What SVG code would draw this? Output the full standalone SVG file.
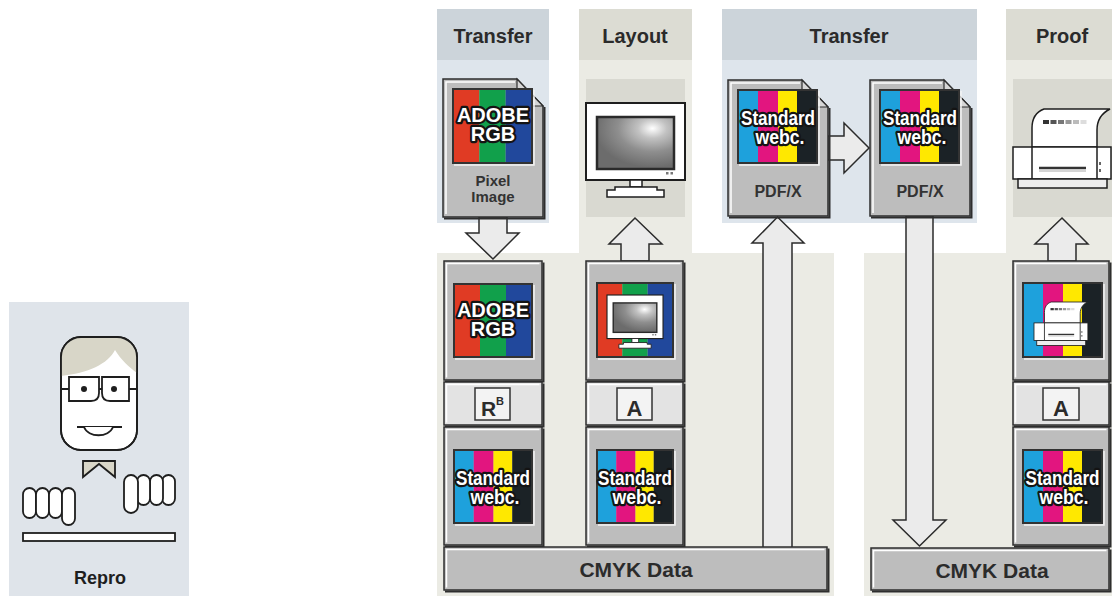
<svg xmlns="http://www.w3.org/2000/svg" width="1112" height="596" viewBox="0 0 1112 596">
<style>
text{font-family:"Liberation Sans",Arial,sans-serif;font-weight:bold}
.hd{font-size:20px;fill:#2b2b2b;text-anchor:middle}
.lb{font-size:15px;fill:#333;text-anchor:middle}
.bar-t{font-size:21px;fill:#2b2b2b;text-anchor:middle}
.ol{font-size:20px;fill:#fff;stroke:#141414;stroke-width:4.5px;stroke-linejoin:round;paint-order:stroke;text-anchor:middle}
.cell{fill:#bdbdbd;stroke:#2e2e2e;stroke-width:1.5}
.mid{fill:#e3e3e3;stroke:#2e2e2e;stroke-width:1.5}
.hl{fill:none;stroke:#fff;stroke-width:1.5}
.sh{fill:none;stroke:#2e2e2e;stroke-width:2}
.pf{fill:none;stroke:#333;stroke-width:2}
.pb{fill:none;stroke:#f4f4f4;stroke-width:1.5}
.arr{fill:#ebebeb;stroke:#2b2b2b;stroke-width:1.5}
.doc{fill:#bdbdbd;stroke:#2e2e2e;stroke-width:1.5}
.fold{fill:#d6d6d6;stroke:#2e2e2e;stroke-width:1.2}
.key{fill:#f3f3f3;stroke:#333;stroke-width:1.5}
.skin{fill:#fff;stroke:#1e1e1e;stroke-width:1.8}
.icon-bg{fill:#d9d9d1}
</style>
<defs>
  <symbol id="rgb" viewBox="0 0 78 73" preserveAspectRatio="none">
    <rect width="26" height="73" fill="#e03b24"/>
    <rect x="26" width="26" height="73" fill="#11a04b"/>
    <rect x="52" width="26" height="73" fill="#21489c"/>
  </symbol>
  <symbol id="cmyk" viewBox="0 0 79 73" preserveAspectRatio="none">
    <rect width="20" height="73" fill="#1ea1dc"/>
    <rect x="20" width="20" height="73" fill="#e2157f"/>
    <rect x="40" width="19" height="73" fill="#ffe800"/>
    <rect x="59" width="20" height="73" fill="#1b2226"/>
  </symbol>
  <radialGradient id="scr" cx="0.72" cy="0.22" r="0.75">
    <stop offset="0" stop-color="#ffffff"/>
    <stop offset="0.25" stop-color="#c2c2c2"/>
    <stop offset="0.6" stop-color="#8e8e8e"/>
    <stop offset="1" stop-color="#6c6c6c"/>
  </radialGradient>
  <clipPath id="headClip"><rect x="61" y="337" width="76" height="113" rx="20"/></clipPath>
  <!-- flat-screen monitor, origin at top-left of the frame -->
  <g id="mon">
    <rect width="99" height="77" fill="#fff" stroke="#1e1e1e" stroke-width="2"/>
    <rect x="11" y="14" width="77" height="52" fill="url(#scr)" stroke="#2a2a2a" stroke-width="2.5"/>
    <rect x="80" y="69" width="2.5" height="2.5" fill="#777"/>
    <rect x="84.5" y="69" width="2.5" height="2.5" fill="#777"/>
    <rect x="44" y="77" width="12" height="7" fill="#fff" stroke="#1e1e1e" stroke-width="1.5"/>
    <path d="M29,84 H71 V87 H78 V94 H21 V87 H29 Z" fill="#fff" stroke="#1e1e1e" stroke-width="1.5"/>
  </g>
  <!-- proof printer, origin at top-left of the body/paper box -->
  <g id="prn">
    <path d="M19,38 V19 C19,9 23,3 31,0 H97 C89,4 84,11 84,21 V38 Z" fill="#fff" stroke="#1e1e1e" stroke-width="1.5"/>
    <rect x="30" y="11" width="6" height="4" fill="#333"/>
    <rect x="37.5" y="11" width="6" height="4" fill="#555"/>
    <rect x="45" y="11" width="6" height="4" fill="#777"/>
    <rect x="52.5" y="11" width="6" height="4" fill="#999"/>
    <rect x="60" y="11" width="6" height="4" fill="#bbb"/>
    <rect x="67.5" y="11" width="6" height="4" fill="#ddd"/>
    <rect y="38" width="98" height="32" fill="#fff" stroke="#1e1e1e" stroke-width="1.5"/>
    <path d="M19,38 V70 M84,38 V70" fill="none" stroke="#1e1e1e" stroke-width="1.5"/>
    <path d="M26,59 H73" stroke="#333" stroke-width="2.5"/>
    <path d="M26,62 H73" stroke="#aaa" stroke-width="1"/>
    <rect x="86" y="53" width="2" height="3" fill="#666"/>
    <rect x="86" y="60" width="2" height="3" fill="#666"/>
    <rect x="5" y="70" width="89" height="9" fill="#ededed" stroke="#1e1e1e" stroke-width="1.5"/>
  </g>
</defs>

<!-- column backgrounds and headers -->
<g id="panels">
  <rect x="9" y="302" width="180" height="294" fill="#dfe4ea"/>
  <rect x="437" y="253" width="397" height="343" fill="#ebebe4"/>
  <rect x="864" y="253" width="248" height="343" fill="#ebebe4"/>
  <rect x="437" y="9" width="112" height="51" fill="#ccd4da"/>
  <rect x="437" y="60" width="112" height="163" fill="#dee5ec"/>
  <rect x="579" y="9" width="113" height="51" fill="#dcdcd3"/>
  <rect x="579" y="60" width="113" height="193" fill="#ebebe4"/>
  <rect x="722" y="9" width="255" height="51" fill="#ccd4da"/>
  <rect x="722" y="60" width="255" height="163" fill="#dee5ec"/>
  <rect x="1006" y="9" width="106" height="51" fill="#dcdcd3"/>
  <rect x="1006" y="60" width="106" height="193" fill="#ebebe4"/>
  <text class="hd" x="493" y="43">Transfer</text>
  <text class="hd" x="635" y="43">Layout</text>
  <text class="hd" x="849" y="43">Transfer</text>
  <text class="hd" x="1062" y="43">Proof</text>
</g>

<!-- block arrows -->
<g id="connectors">
  <path class="arr" d="M479,217 V233 H466 L493,259 L519,233 H507 V217 Z"/>
  <path class="arr" d="M621,261 V244 H609 L635,218 L662,244 H649 V261 Z"/>
  <path class="arr" d="M763,548 V243 H752 L777.5,217 L804,243 H792 V548 Z"/>
  <path class="arr" d="M906,216 V520 H893 L919.5,546 L946,520 H933 V216 Z"/>
  <path class="arr" d="M1048,261 V244 H1035 L1062,218 L1088,244 H1076 V261 Z"/>
  <path class="arr" d="M828,136 H844 V123 L869,148 L844,173 V160 H828 Z"/>
</g>

<g id="node-pixel-image">
  <path class="doc" d="M443,79 H517 L543,106 V217 H443 Z"/>
  <path class="sh" d="M544.5,107 V218.5 H444"/>
  <path class="hl" d="M446,214 V82 H515"/>
  <path class="fold" d="M517,79 V106 H543 Z"/>
  <use href="#rgb" x="453" y="89" width="79" height="74"/>
  <rect class="pf" x="453" y="89" width="79" height="74"/>
  <path class="pb" d="M454,165 H534 V90"/>
  <text class="ol" x="493" y="122">ADOBE</text>
  <text class="ol" x="493" y="141">RGB</text>
  <text class="lb" x="493" y="186">Pixel</text>
  <text class="lb" x="493" y="202">Image</text>
</g>

<g id="node-layout-monitor">
  <rect class="icon-bg" x="586" y="79" width="99" height="138"/>
  <use href="#mon" transform="translate(586,103)"/>
</g>

<g id="node-pdfx-1">
  <path class="doc" d="M728,80 H802 L828,107 V216 H728 Z"/>
  <path class="sh" d="M829.5,108 V217.5 H729"/>
  <path class="hl" d="M731,213 V83 H800"/>
  <path class="fold" d="M802,80 V107 H828 Z"/>
  <use href="#cmyk" x="738" y="90" width="79" height="73"/>
  <rect class="pf" x="738" y="90" width="79" height="73"/>
  <path class="pb" d="M739,165 H819 V91"/>
  <text class="ol" x="778" y="125" textLength="74" lengthAdjust="spacingAndGlyphs">Standard</text>
  <text class="ol" x="780" y="144" textLength="49" lengthAdjust="spacingAndGlyphs">webc.</text>
  <text class="lb" x="778" y="197" style="font-size:16px">PDF/X</text>
</g>

<g id="node-pdfx-2">
  <path class="doc" d="M870,80 H944 L970,107 V216 H870 Z"/>
  <path class="sh" d="M971.5,108 V217.5 H871"/>
  <path class="hl" d="M873,213 V83 H942"/>
  <path class="fold" d="M944,80 V107 H970 Z"/>
  <use href="#cmyk" x="880" y="90" width="79" height="73"/>
  <rect class="pf" x="880" y="90" width="79" height="73"/>
  <path class="pb" d="M881,165 H961 V91"/>
  <text class="ol" x="920" y="125" textLength="74" lengthAdjust="spacingAndGlyphs">Standard</text>
  <text class="ol" x="922" y="144" textLength="49" lengthAdjust="spacingAndGlyphs">webc.</text>
  <text class="lb" x="920" y="197" style="font-size:16px">PDF/X</text>
</g>

<g id="node-proof-printer">
  <rect class="icon-bg" x="1013" y="79" width="99" height="138"/>
  <use href="#prn" transform="translate(1013,109)"/>
</g>

<g id="node-rgb-stack">
  <rect class="cell" x="444" y="261" width="98" height="119"/>
  <path class="hl" d="M446.5,377.5 V263.5 H539.5"/>
  <path class="sh" d="M543.5,262.5 V381.5 H445"/>
  <use href="#rgb" x="454" y="284" width="78" height="73"/>
  <rect class="pf" x="454" y="284" width="78" height="73"/>
  <path class="pb" d="M455,359 H534 V285"/>
  <text class="ol" x="493" y="317">ADOBE</text>
  <text class="ol" x="493" y="336">RGB</text>
  <rect class="mid" x="444" y="382" width="98" height="43"/>
  <path class="hl" d="M446.5,422.5 V384.5 H539.5"/>
  <path class="sh" d="M543.5,383.5 V426.5 H445"/>
  <rect class="key" x="475" y="388" width="35" height="32"/>
  <text x="481" y="416" style="font-size:21px;fill:#2b2b2b">R</text>
  <text x="496" y="405" style="font-size:11px;fill:#2b2b2b">B</text>
  <rect class="cell" x="444" y="427" width="98" height="118"/>
  <path class="hl" d="M446.5,542.5 V429.5 H539.5"/>
  <path class="sh" d="M543.5,428.5 V546.5 H445"/>
  <use href="#cmyk" x="454" y="450" width="78" height="73"/>
  <rect class="pf" x="454" y="450" width="78" height="73"/>
  <path class="pb" d="M455,525 H534 V451"/>
  <text class="ol" x="493" y="485" textLength="74" lengthAdjust="spacingAndGlyphs">Standard</text>
  <text class="ol" x="495" y="504" textLength="49" lengthAdjust="spacingAndGlyphs">webc.</text>
</g>

<g id="node-layout-stack">
  <rect class="cell" x="586" y="261" width="97" height="119"/>
  <path class="hl" d="M588.5,377.5 V263.5 H680.5"/>
  <path class="sh" d="M684.5,262.5 V381.5 H587"/>
  <use href="#rgb" x="597" y="283" width="76" height="74"/>
  <rect class="pf" x="597" y="283" width="76" height="74"/>
  <path class="pb" d="M598,359 H675 V284"/>
  <use href="#mon" transform="translate(607,295) scale(0.566)"/>
  <rect class="mid" x="586" y="382" width="97" height="43"/>
  <path class="hl" d="M588.5,422.5 V384.5 H680.5"/>
  <path class="sh" d="M684.5,383.5 V426.5 H587"/>
  <rect class="key" x="617" y="388" width="35" height="32"/>
  <text x="634.5" y="416" style="font-size:22px;fill:#2b2b2b;text-anchor:middle">A</text>
  <rect class="cell" x="586" y="427" width="97" height="118"/>
  <path class="hl" d="M588.5,542.5 V429.5 H680.5"/>
  <path class="sh" d="M684.5,428.5 V546.5 H587"/>
  <use href="#cmyk" x="597" y="450" width="76" height="73"/>
  <rect class="pf" x="597" y="450" width="76" height="73"/>
  <path class="pb" d="M598,525 H675 V451"/>
  <text class="ol" x="635" y="485" textLength="74" lengthAdjust="spacingAndGlyphs">Standard</text>
  <text class="ol" x="637" y="504" textLength="49" lengthAdjust="spacingAndGlyphs">webc.</text>
</g>

<g id="node-proof-stack">
  <rect class="cell" x="1013" y="261" width="96" height="119"/>
  <path class="hl" d="M1015.5,377.5 V263.5 H1106.5"/>
  <path class="sh" d="M1110.5,262.5 V381.5 H1014"/>
  <use href="#cmyk" x="1023" y="283" width="79" height="74"/>
  <rect class="pf" x="1023" y="283" width="79" height="74"/>
  <path class="pb" d="M1024,359 H1104 V284"/>
  <use href="#prn" transform="translate(1034,302) scale(0.55)"/>
  <rect class="mid" x="1013" y="382" width="96" height="43"/>
  <path class="hl" d="M1015.5,422.5 V384.5 H1106.5"/>
  <path class="sh" d="M1110.5,383.5 V426.5 H1014"/>
  <rect class="key" x="1043" y="388" width="36" height="32"/>
  <text x="1061" y="416" style="font-size:22px;fill:#2b2b2b;text-anchor:middle">A</text>
  <rect class="cell" x="1013" y="427" width="96" height="118"/>
  <path class="hl" d="M1015.5,542.5 V429.5 H1106.5"/>
  <path class="sh" d="M1110.5,428.5 V546.5 H1014"/>
  <use href="#cmyk" x="1023" y="450" width="79" height="73"/>
  <rect class="pf" x="1023" y="450" width="79" height="73"/>
  <path class="pb" d="M1024,525 H1104 V451"/>
  <text class="ol" x="1062.5" y="485" textLength="74" lengthAdjust="spacingAndGlyphs">Standard</text>
  <text class="ol" x="1064" y="504" textLength="49" lengthAdjust="spacingAndGlyphs">webc.</text>
</g>

<g id="node-cmyk-data-1">
  <rect class="cell" x="444" y="547" width="383" height="43"/>
  <path class="hl" d="M446.5,587.5 V549.5 H824.5"/>
  <path class="sh" d="M828.5,548.5 V591.5 H445"/>
  <text class="bar-t" x="636" y="577">CMYK Data</text>
</g>

<g id="node-cmyk-data-2">
  <rect class="cell" x="871" y="548" width="238" height="42"/>
  <path class="hl" d="M873.5,587.5 V550.5 H1106.5"/>
  <path class="sh" d="M1110.5,549.5 V591.5 H872"/>
  <text class="bar-t" x="992" y="578">CMYK Data</text>
</g>

<g id="node-repro">
  <rect class="skin" x="61" y="337" width="76" height="113" rx="20" stroke="none"/>
  <path clip-path="url(#headClip)" d="M61,337 H137 V373 C129,367 121,360 115,350 C108,364 88,373 61,376 Z" fill="#d8d6c8"/>
  <rect x="61" y="337" width="76" height="113" rx="20" fill="none" stroke="#1e1e1e" stroke-width="1.8"/>
  <path d="M69,377 H99 V393 Q99,401 91,401 H69 Z" fill="#fff" stroke="#1e1e1e" stroke-width="1.8"/>
  <path d="M102,377 H129 V401 H110 Q102,401 102,393 Z" fill="#fff" stroke="#1e1e1e" stroke-width="1.8"/>
  <path d="M61,389 H69 M99,389 H102 M129,389 H137" stroke="#1e1e1e" stroke-width="1.8"/>
  <circle cx="84" cy="389" r="3" fill="#1e1e1e"/>
  <circle cx="114" cy="389" r="3" fill="#1e1e1e"/>
  <path d="M77,427 H122" stroke="#1e1e1e" stroke-width="1.8"/>
  <path d="M84,427 C88,438 109,438 113,427" fill="#fff" stroke="#1e1e1e" stroke-width="1.8"/>
  <path d="M83,461 H115 V477 L99,464 L83,477 Z" fill="#d8d6c8" stroke="#1e1e1e" stroke-width="1.8" stroke-linejoin="miter"/>
  <rect class="skin" x="23" y="488" width="13" height="30" rx="6.5"/>
  <rect class="skin" x="36" y="488" width="13" height="30" rx="6.5"/>
  <rect class="skin" x="49" y="488" width="13" height="30" rx="6.5"/>
  <rect class="skin" x="62" y="488" width="13" height="37" rx="6.5"/>
  <rect class="skin" x="162" y="475" width="13" height="30" rx="6.5"/>
  <rect class="skin" x="150" y="475" width="13" height="30" rx="6.5"/>
  <rect class="skin" x="137" y="475" width="13" height="30" rx="6.5"/>
  <rect class="skin" x="124" y="475" width="14" height="38" rx="7"/>
  <rect class="skin" x="23" y="533" width="152" height="8"/>
  <text x="100" y="584" style="font-size:18px;fill:#1e1e1e;text-anchor:middle">Repro</text>
</g>
</svg>
